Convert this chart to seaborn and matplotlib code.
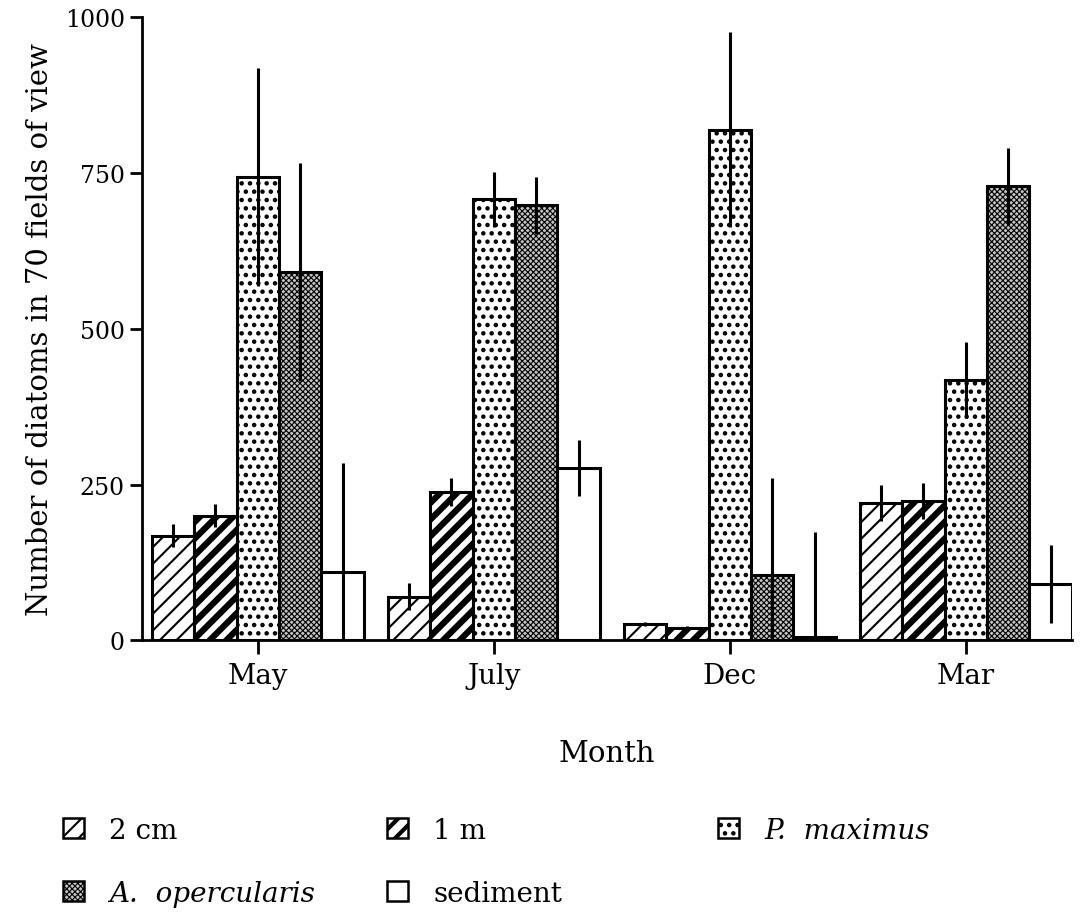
import numpy as np
import pandas as pd
import matplotlib
matplotlib.use("Agg")
import matplotlib.pyplot as plt
import seaborn as sns
from matplotlib.patches import Patch

months = ["May", "July", "Dec", "Mar"]
series = ["2 cm", "1 m", "P.  maximus", "A.  opercularis", "sediment"]

two_cm = [168, 70, 26, 220]
one_m = [200, 238, 20, 224]
p_maximus = [743, 708, 820, 418]
a_opercularis = [592, 698, 104, 729]
sediment = [110, 276, 6, 90]

two_cm_err = [19, 22, 3, 29]
one_m_err = [18, 23, 3, 29]
p_maximus_err = [175, 44, 157, 61]
a_opercularis_err = [175, 45, 156, 62]
sediment_err = [175, 45, 167, 63]

y_ticks = [0, 250, 500, 750, 1000]

values = [two_cm, one_m, p_maximus, a_opercularis, sediment]
errors = [two_cm_err, one_m_err, p_maximus_err, a_opercularis_err, sediment_err]

rows = []
for s, vals, errs in zip(series, values, errors):
    for m, v, e in zip(months, vals, errs):
        rows.append({"Month": m, "Group": s, "value": v, "err": e})
df = pd.DataFrame(rows)

sns.set_theme(style="ticks")
plt.rcParams["font.family"] = ["DejaVu Serif"]
plt.rcParams["hatch.color"] = "black"
plt.rcParams["text.color"] = "black"
plt.rcParams["axes.labelcolor"] = "black"

fig = plt.figure(figsize=(10.85, 9.2), dpi=100)
ax = fig.add_axes([0.131, 0.303, 0.857, 0.677])

styles = {
    "2 cm": dict(hatch="//", fc="white", hlw=1.5),
    "1 m": dict(hatch="//", fc="white", hlw=4.5),
    "P.  maximus": dict(hatch="..", fc="white", hlw=2.0),
    "A.  opercularis": dict(hatch="xxxxxx", fc="#c4c4c4", hlw=0.8),
    "sediment": dict(hatch="", fc="white", hlw=1.0),
}
italic = {"P.  maximus", "A.  opercularis"}

sns.barplot(data=df, x="Month", y="value", hue="Group", order=months,
            hue_order=series, width=0.9, errorbar=None, ax=ax,
            palette=["white"] * 5, edgecolor="black", linewidth=2.2,
            legend=False)

for s, cont in zip(series, ax.containers):
    st = styles[s]
    sub = df[df["Group"] == s].set_index("Month").loc[months]
    xs, ys = [], []
    for bar in cont:
        bar.set_facecolor(st["fc"])
        bar.set_edgecolor("black")
        bar.set_hatch(st["hatch"])
        if hasattr(bar, "set_hatch_linewidth"):
            bar.set_hatch_linewidth(st["hlw"])
        xs.append(bar.get_x() + bar.get_width() / 2)
        ys.append(bar.get_height())
    ax.errorbar(xs, ys, yerr=sub["err"].values, fmt="none", ecolor="black",
                elinewidth=2.2, capsize=0, zorder=5)

ax.set_ylim(0, 1000)
ax.set_xlim(-0.49, 3.45)
ax.set_yticks(y_ticks)
ax.set_yticklabels([str(t) for t in y_ticks])
ax.tick_params(axis="y", labelsize=17, width=2, length=9, direction="out",
               colors="black")
ax.tick_params(axis="x", labelsize=20, width=2, length=10, direction="out",
               colors="black", pad=6)
sns.despine(ax=ax)
for sp in ["left", "bottom"]:
    ax.spines[sp].set_linewidth(2)
    ax.spines[sp].set_color("black")
ax.set_ylabel("Number of diatoms in 70 fields of view", fontsize=21,
              labelpad=8, color="black")
ax.set_xlabel("Month", fontsize=21, labelpad=36, color="black")


def make_handle(s):
    st = styles[s]
    return Patch(facecolor=st["fc"], edgecolor="black", hatch=st["hatch"],
                 linewidth=1.8)


columns = [(["2 cm", "A.  opercularis"], 0.058),
           (["1 m", "sediment"], 0.357),
           (["P.  maximus"], 0.662)]
for names, x0 in columns:
    leg = fig.legend([make_handle(n) for n in names], names,
                     loc="upper left", bbox_to_anchor=(x0, 0.111),
                     frameon=False, fontsize=20, handlelength=0.75,
                     handleheight=0.75, handletextpad=0.9,
                     labelspacing=1.3, borderpad=0, borderaxespad=0)
    for n, h, t in zip(names, leg.legend_handles, leg.get_texts()):
        if hasattr(h, "set_hatch_linewidth"):
            h.set_hatch_linewidth(min(styles[n]["hlw"], 3.0))
        if n in italic:
            t.set_style("italic")
        t.set_color("black")

fig.savefig("out.png", dpi=100)
